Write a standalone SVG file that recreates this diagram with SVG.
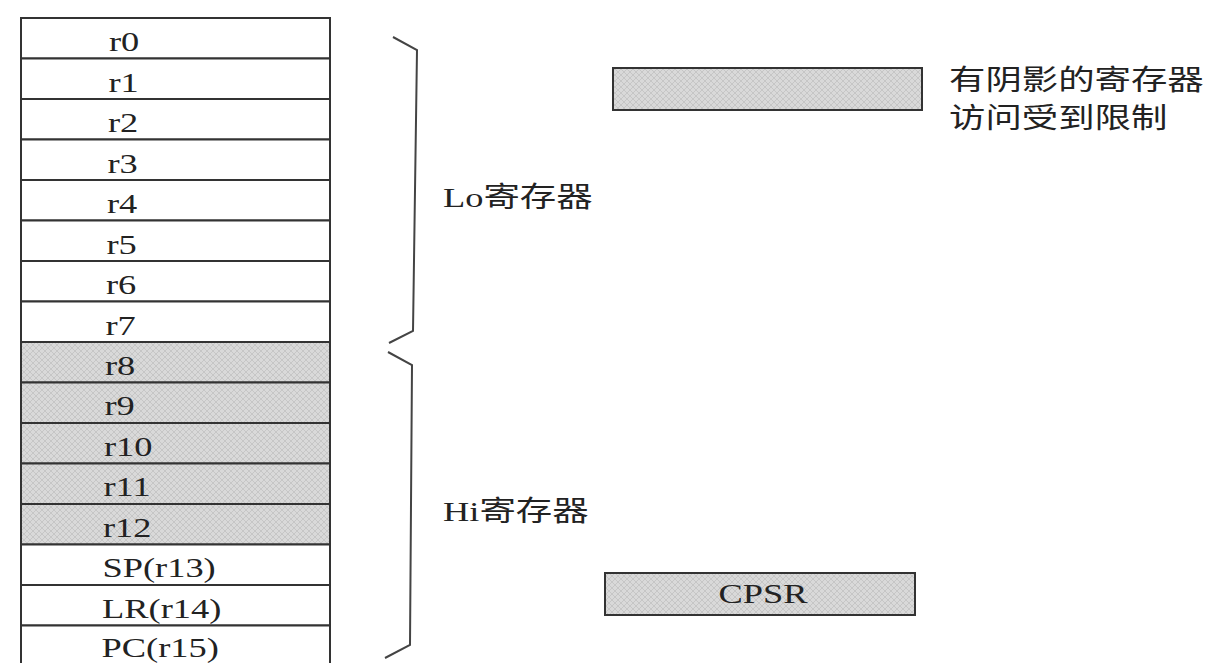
<svg xmlns="http://www.w3.org/2000/svg" width="1212" height="663" viewBox="0 0 1212 663">
  <defs>
    <pattern id="hatch" width="6" height="6" patternUnits="userSpaceOnUse">
      <rect width="6" height="6" fill="#d9d9d9"/>
      <path d="M0,6 L6,0 M0,0 L6,6" stroke="#c6c6c6" stroke-width="1"/>
    </pattern>
  </defs>
  <style>
    .cell { fill: #ffffff; stroke: #333333; stroke-width: 2; }
    .shade { fill: url(#hatch); stroke: #333333; stroke-width: 2; }
    .lbl { font-family: "Liberation Serif", "Noto Sans CJK SC", serif; font-size: 28px; fill: #222222; }
    .cjk { font-family: "Liberation Serif", "Noto Sans CJK SC", serif; font-size: 28px; fill: #222222; }
    .brace { fill: none; stroke: #444444; stroke-width: 2; stroke-linejoin: miter; }
  </style>
  <rect width="1212" height="663" fill="#ffffff"/>

  <g id="registers">
    <g id="r0"><rect class="cell" x="21" y="18" width="309" height="40.5"/><g transform="translate(109,51) scale(1.3,1)"><text class="lbl">r0</text></g></g>
    <g id="r1"><rect class="cell" x="21" y="58.5" width="309" height="40.5"/><g transform="translate(108.5,91.5) scale(1.3,1)"><text class="lbl">r1</text></g></g>
    <g id="r2"><rect class="cell" x="21" y="99" width="309" height="40.5"/><g transform="translate(108,132) scale(1.3,1)"><text class="lbl">r2</text></g></g>
    <g id="r3"><rect class="cell" x="21" y="139.5" width="309" height="40.5"/><g transform="translate(107.5,172.5) scale(1.3,1)"><text class="lbl">r3</text></g></g>
    <g id="r4"><rect class="cell" x="21" y="180" width="309" height="40.5"/><g transform="translate(107,213) scale(1.3,1)"><text class="lbl">r4</text></g></g>
    <g id="r5"><rect class="cell" x="21" y="220.5" width="309" height="40.5"/><g transform="translate(106.5,253.5) scale(1.3,1)"><text class="lbl">r5</text></g></g>
    <g id="r6"><rect class="cell" x="21" y="261" width="309" height="40.5"/><g transform="translate(106,294) scale(1.3,1)"><text class="lbl">r6</text></g></g>
    <g id="r7"><rect class="cell" x="21" y="301.5" width="309" height="40.5"/><g transform="translate(105.5,334.5) scale(1.3,1)"><text class="lbl">r7</text></g></g>
    <g id="r8"><rect class="shade" x="21" y="342" width="309" height="40.5"/><g transform="translate(105,374.5) scale(1.3,1)"><text class="lbl">r8</text></g></g>
    <g id="r9"><rect class="shade" x="21" y="382.5" width="309" height="40.5"/><g transform="translate(104.5,415) scale(1.3,1)"><text class="lbl">r9</text></g></g>
    <g id="r10"><rect class="shade" x="21" y="423" width="309" height="40.5"/><g transform="translate(104,455.5) scale(1.3,1)"><text class="lbl">r10</text></g></g>
    <g id="r11"><rect class="shade" x="21" y="463.5" width="309" height="40.5"/><g transform="translate(103.5,496) scale(1.3,1)"><text class="lbl">r11</text></g></g>
    <g id="r12"><rect class="shade" x="21" y="504" width="309" height="40.5"/><g transform="translate(103,536.5) scale(1.3,1)"><text class="lbl">r12</text></g></g>
    <g id="r13"><rect class="cell" x="21" y="544.5" width="309" height="40.5"/><g transform="translate(102.5,577) scale(1.3,1)"><text class="lbl">SP(r13)</text></g></g>
    <g id="r14"><rect class="cell" x="21" y="585" width="309" height="40.5"/><g transform="translate(102,617.5) scale(1.3,1)"><text class="lbl">LR(r14)</text></g></g>
    <g id="r15"><rect class="cell" x="21" y="625.5" width="309" height="40.5"/><g transform="translate(101.5,657) scale(1.3,1)"><text class="lbl">PC(r15)</text></g></g>
  </g>

  <g id="braces">
    <path class="brace" d="M393,37 L417,50 L413,331 L389,343"/>
    <path class="brace" d="M388,352 L412,365 L410,645 L385,658"/>
  </g>

  <g id="lo-label"><g transform="translate(443,207) scale(1.3,1)"><text class="cjk">Lo寄存器</text></g></g>
  <g id="hi-label"><g transform="translate(443,521) scale(1.3,1)"><text class="cjk">Hi寄存器</text></g></g>

  <g id="legend">
    <rect class="shade" x="613" y="68" width="309" height="42"/>
    <g transform="translate(949,90) scale(1.3,1)"><text class="cjk">有阴影的寄存器</text></g>
    <g transform="translate(949,128) scale(1.3,1)"><text class="cjk">访问受到限制</text></g>
  </g>

  <g id="cpsr">
    <rect class="shade" x="605" y="573" width="310" height="42"/>
    <g transform="translate(763,603) scale(1.3,1)"><text class="lbl" text-anchor="middle">CPSR</text></g>
  </g>
</svg>
